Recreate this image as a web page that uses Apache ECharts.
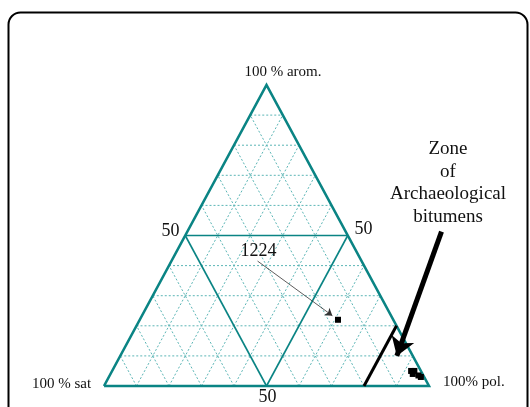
<!DOCTYPE html>
<html>
<head>
<meta charset="utf-8">
<script src="https://cdn.jsdelivr.net/npm/echarts@6/dist/echarts.min.js"></script>
<style>
  html, body { margin: 0; padding: 0; background: #fff; }
  #chart { width: 530px; height: 407px; }
</style>
</head>
<body>
<div id="chart"></div>
<script>
// Ternary composition of bitumen extracts: saturates / aromatics / polars (%)
const gridSteps = [10, 20, 30, 40, 60, 70, 80, 90];
const majorSteps = [50];
const sampleLabels = ['1224', 'A1', 'A2', 'A3', 'A4', 'A5'];
const satValues = [17, 3, 2, 3, 1.5, 1];
const aromValues = [22, 5, 5, 4, 3.5, 3];
const polValues = [61, 92, 93, 93, 95, 96];
// Boundary of the archaeological bitumen zone: constant polar fraction
const zonePolar = 80;
const zoneAromRange = [0, 20];
// Callout for sample 1224: label anchor (sat, arom, pol)
const calloutFrom = [32, 41.5, 26.5];
// Pointer to the zone, in (sat, arom, pol) terms
const zoneArrowFrom = [-29.5, 51.3, 78.2];
const zoneArrowTo = [4.9, 10, 85.1];

// sat/arom/pol percentages -> planar (x, y) in the unit frame
function tern(sat, arom, pol) {
  const s = sat + arom + pol;
  const a = arom / s, p = pol / s;
  return [p + a / 2, a];
}
function seg(p1, p2) { return [tern(...p1), tern(...p2)]; }

function familyLines(k) {
  return [
    seg([100 - k, k, 0], [0, k, 100 - k]),   // constant aromatics
    seg([100 - k, 0, k], [0, 100 - k, k]),   // constant polars
    seg([k, 0, 100 - k], [k, 100 - k, 0])    // constant saturates
  ];
}

const minorLines = gridSteps.flatMap(familyLines);
const majorLines = majorSteps.flatMap(familyLines);
const frame = [[tern(100, 0, 0), tern(0, 0, 100), tern(0, 100, 0), tern(100, 0, 0)]];
const zoneLine = [seg([100 - zonePolar - zoneAromRange[0], zoneAromRange[0], zonePolar],
                      [100 - zonePolar - zoneAromRange[1], zoneAromRange[1], zonePolar])];

const points = sampleLabels.map((n, i) => ({
  name: n,
  value: tern(satValues[i], aromValues[i], polValues[i])
}));

const c0 = tern(...calloutFrom);
const c1 = points[0].value;
const calloutEnd = [c0[0] + 0.93 * (c1[0] - c0[0]), c0[1] + 0.93 * (c1[1] - c0[1])];

const teal = '#0a8484';
const tealLight = '#5cb6b6';
const serif = '"Liberation Serif", "Times New Roman", serif';

function pathSeries(paths, style, z) {
  return paths.map(p => ({
    type: 'line', data: p, symbol: 'none', clip: false, silent: true, z: z,
    animation: false, lineStyle: style
  }));
}

const chart = echarts.init(document.getElementById('chart'), null, { renderer: 'canvas' });

chart.setOption({
  animation: false,
  backgroundColor: '#fff',
  grid: { left: 104, top: 85, width: 325, height: 301 },
  xAxis: { type: 'value', min: 0, max: 1, show: false },
  yAxis: { type: 'value', min: 0, max: 1, show: false },
  graphic: [
    { type: 'rect', shape: { x: 8.5, y: 12.5, width: 519, height: 430, r: 12 },
      style: { fill: 'none', stroke: '#000', lineWidth: 2 }, z: 0 },
    { type: 'text', x: 283, y: 72, z: 10,
      style: { text: '100 % arom.', font: '15px ' + serif, fill: '#111', align: 'center', verticalAlign: 'middle' } },
    { type: 'text', x: 170.5, y: 231, z: 10,
      style: { text: '50', font: '18px ' + serif, fill: '#111', align: 'center', verticalAlign: 'middle' } },
    { type: 'text', x: 363.5, y: 229, z: 10,
      style: { text: '50', font: '18px ' + serif, fill: '#111', align: 'center', verticalAlign: 'middle' } },
    { type: 'text', x: 267.5, y: 397, z: 10,
      style: { text: '50', font: '18px ' + serif, fill: '#111', align: 'center', verticalAlign: 'middle' } },
    { type: 'text', x: 32, y: 384, z: 10,
      style: { text: '100 % sat', font: '15px ' + serif, fill: '#111', align: 'left', verticalAlign: 'middle' } },
    { type: 'text', x: 443, y: 382, z: 10,
      style: { text: '100% pol.', font: '15px ' + serif, fill: '#111', align: 'left', verticalAlign: 'middle' } },
    { type: 'text', x: 258.5, y: 251, z: 10,
      style: { text: sampleLabels[0], font: '18px ' + serif, fill: '#111', align: 'center', verticalAlign: 'middle' } },
    { type: 'text', x: 448, y: 183, z: 10,
      style: { text: 'Zone\nof\nArchaeological\nbitumens', font: '19px ' + serif, lineHeight: 22.5,
               fill: '#111', align: 'center', verticalAlign: 'middle' } }
  ],
  series: [
    ...pathSeries(minorLines, { color: tealLight, width: 1, type: [2, 2] }, 1),
    ...pathSeries(majorLines, { color: teal, width: 1.6, type: 'solid' }, 2),
    ...pathSeries(frame, { color: teal, width: 2.6, type: 'solid', join: 'miter' }, 3),
    ...pathSeries(zoneLine, { color: '#000', width: 3, type: 'solid' }, 4),
    { type: 'lines', coordinateSystem: 'cartesian2d', clip: false, silent: true, z: 5,
      symbol: ['none', 'arrow'], symbolSize: 7,
      lineStyle: { color: '#333', width: 0.8, opacity: 1 },
      data: [{ coords: [c0, calloutEnd] }] },
    { type: 'lines', coordinateSystem: 'cartesian2d', clip: false, silent: true, z: 5,
      symbol: ['none', 'arrow'], symbolSize: [13, 18],
      lineStyle: { color: '#000', width: 5, opacity: 1 },
      data: [{ coords: [tern(...zoneArrowFrom), tern(...zoneArrowTo)] }] },
    { type: 'scatter', clip: false, silent: true, z: 6,
      symbol: 'rect', symbolSize: 6,
      itemStyle: { color: '#000', opacity: 1 },
      data: points }
  ]
});
</script>
</body>
</html>
